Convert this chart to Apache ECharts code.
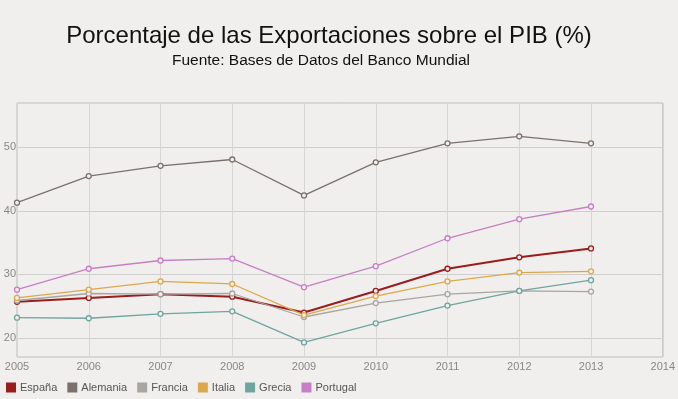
<!DOCTYPE html>
<html>
<head>
<meta charset="utf-8">
<script src="https://cdn.jsdelivr.net/npm/echarts@6/dist/echarts.min.js"></script>
<style>
  html, body { margin: 0; padding: 0; background: #f0efed; }
  #chart { width: 678px; height: 399px; }
</style>
</head>
<body>
<div id="chart"></div>
<script>
const years = ['2005', '2006', '2007', '2008', '2009', '2010', '2011', '2012', '2013', '2014']
const yTicks = [20, 30, 40, 50]

const espana = [25.7, 26.3, 26.9, 26.5, 24.0, 27.4, 30.9, 32.7, 34.1]
const alemania = [41.3, 45.5, 47.1, 48.1, 42.45, 47.65, 50.65, 51.75, 50.65]
const francia = [25.9, 27.0, 26.9, 27.0, 23.3, 25.5, 26.9, 27.4, 27.3]
const italia = [26.3, 27.6, 28.9, 28.5, 23.6, 26.6, 28.9, 30.3, 30.5]
const grecia = [23.2, 23.1, 23.8, 24.2, 19.3, 22.3, 25.1, 27.4, 29.1]
const portugal = [27.6, 30.9, 32.2, 32.5, 28.0, 31.3, 35.7, 38.7, 40.7]

const seriesDefs = [
  { name: 'España', data: espana, color: '#9b1c1c', width: 2 },
  { name: 'Alemania', data: alemania, color: '#7a716c', width: 1.3 },
  { name: 'Francia', data: francia, color: '#a9a5a1', width: 1.3 },
  { name: 'Italia', data: italia, color: '#dba94a', width: 1.3 },
  { name: 'Grecia', data: grecia, color: '#6fa5a0', width: 1.3 },
  { name: 'Portugal', data: portugal, color: '#c77fc4', width: 1.3 }
]

const chart = echarts.init(document.getElementById('chart'))
chart.setOption({
  backgroundColor: '#f0efed',
  animation: false,
  title: [
    {
      text: 'Porcentaje de las Exportaciones sobre el PIB (%)',
      left: 324,
      top: 19,
      textAlign: 'center',
      textStyle: { fontFamily: 'Liberation Sans', fontSize: 24, fontWeight: 'normal', color: '#111' }
    },
    {
      text: 'Fuente: Bases de Datos del Banco Mundial',
      left: 316,
      top: 48,
      textAlign: 'center',
      textStyle: { fontFamily: 'Liberation Sans', fontSize: 15.5, fontWeight: 'normal', color: '#111' }
    }
  ],
  legend: {
    left: 1,
    top: 377,
    itemWidth: 10,
    itemHeight: 10,
    itemGap: 10,
    icon: 'rect',
    textStyle: { fontFamily: 'Liberation Sans', fontSize: 11, color: '#555', padding: [0, 0, 0, -1] },
    data: seriesDefs.map(s => ({
      name: s.name,
      itemStyle: { color: s.color, borderWidth: 0 }
    }))
  },
  grid: {
    left: 17,
    right: 13,
    top: 103,
    bottom: 42,
    show: true,
    borderColor: '#bdbdbd',
    borderWidth: 1,
    containLabel: false
  },
  xAxis: {
    type: 'category',
    boundaryGap: false,
    data: years,
    axisLine: { show: false },
    axisTick: { show: false },
    axisLabel: { color: '#888', fontFamily: 'Liberation Sans', fontSize: 11, margin: 4 },
    splitLine: { show: true, lineStyle: { color: '#d6d6d6' } }
  },
  yAxis: {
    type: 'value',
    min: 17,
    max: 57,
    axisLine: { show: false },
    axisTick: { show: false, customValues: yTicks },
    axisLabel: {
      color: '#888',
      fontFamily: 'Liberation Sans',
      fontSize: 11,
      margin: 1,
      customValues: yTicks
    },
    splitLine: { show: true, lineStyle: { color: '#cfcfcf' } }
  },
  series: seriesDefs.map(s => ({
    name: s.name,
    type: 'line',
    data: s.data,
    symbol: 'circle',
    symbolSize: 5,
    lineStyle: { color: s.color, width: s.width },
    itemStyle: { color: '#f0efed', borderColor: s.color, borderWidth: 1.3 },
    emphasis: { disabled: true }
  }))
})
</script>
</body>
</html>
